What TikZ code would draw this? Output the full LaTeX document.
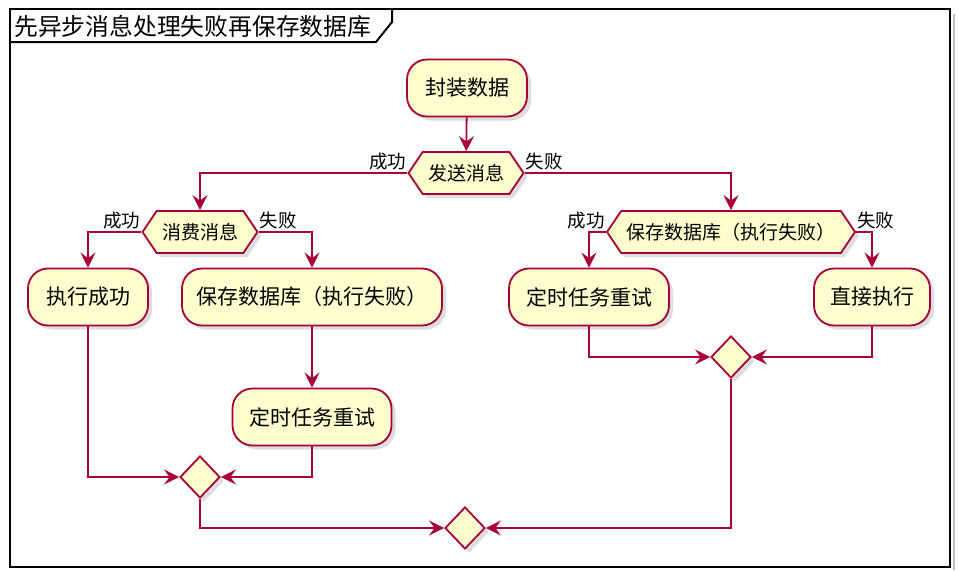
\documentclass[tikz,border=0pt]{standalone}
\usepackage{fontspec}
\setmainfont{Noto Sans CJK SC}
\usetikzlibrary{arrows.meta,shapes.geometric,shapes.symbols,shadows}
\definecolor{actfill}{HTML}{FEFECE}
\definecolor{actline}{HTML}{A80036}
\tikzset{
  shad/.style={drop shadow={shadow xshift=4pt,shadow yshift=-4pt,fill=black!22,draw=none,opacity=0.6}},
  act/.style={draw=actline,fill=actfill,line width=1.8pt,rounded corners=20pt,
    minimum height=57pt,inner sep=0pt,font=\fontsize{21}{25}\selectfont,shad},
  hexa/.style={shape=signal,signal to=west and east,signal pointer angle=112,
    draw=actline,fill=actfill,line width=1.8pt,minimum height=42pt,inner sep=0pt,
    font=\fontsize{19}{23}\selectfont,shad},
  merge/.style={shape=diamond,draw=actline,fill=actfill,line width=1.8pt,
    minimum width=40pt,minimum height=42pt,inner sep=0pt,shad},
  flow/.style={draw=actline,line width=1.8pt,-{Stealth[length=15pt,width=15pt,inset=5.5pt]}},
  lbl/.style={font=\fontsize{18.5}{22}\selectfont,inner sep=1pt}
}
\begin{document}
\begin{tikzpicture}[x=1pt,y=-1pt]
\useasboundingbox (0,0) rectangle (958,570);
\fill[white] (0,0) rectangle (958,570);
% frame
\draw[black!25,line width=2pt] (953.5,14) -- (953.5,570);
\draw[black,line width=2.5pt] (10,9) rectangle (950,567);
\draw[black,line width=2pt] (10,42) -- (376,42) -- (392,22) -- (392,9);
\node[anchor=west,inner sep=0pt,font=\fontsize{23.8}{27}\selectfont] (title) at (14,26) {先异步消息处理失败再保存数据库};
% nodes
\node[act,minimum width=120pt] (a1) at (467,88) {封装数据};
\node[hexa,minimum width=115pt] (h1) at (466,173) {发送消息};
\node[hexa,minimum width=115pt] (h2) at (200,232) {消费消息};
\node[hexa,minimum width=248pt] (h3) at (731,232) {保存数据库（执行失败）};
\node[act,minimum width=120pt] (b1) at (88,297) {执行成功};
\node[act,minimum width=260pt] (b2) at (312,297) {保存数据库（执行失败）};
\node[act,minimum width=159pt] (b3) at (312,417) {定时任务重试};
\node[act,minimum width=160pt] (b4) at (589,297) {定时任务重试};
\node[act,minimum width=116pt] (b5) at (872,297) {直接执行};
\node[merge] (d1) at (200,477) {};
\node[merge] (d3) at (731,357) {};
\node[merge] (d2) at (465,528) {};
% connectors
\draw[flow] (a1) -- (h1);
\draw[flow] (h1.west) -| (h2.north);
\draw[flow] (h1.east) -| (h3.north);
\draw[flow] (h2.west) -| (b1.north);
\draw[flow] (h2.east) -| (b2.north);
\draw[flow] (b2) -- (b3);
\draw[flow] (b1.south) |- (d1.west);
\draw[flow] (b3.south) |- (d1.east);
\draw[flow] (d1.south) |- (d2.west);
\draw[flow] (h3.west) -| (b4.north);
\draw[flow] (h3.east) -| (b5.north);
\draw[flow] (b4.south) |- (d3.west);
\draw[flow] (b5.south) |- (d3.east);
\draw[flow] (d3.south) |- (d2.east);
% labels
\node[lbl,anchor=south east] (l1) at ([yshift=2pt]h1.west) {成功};
\node[lbl,anchor=south west] (l2) at ([yshift=2pt]h1.east) {失败};
\node[lbl,anchor=south east] (l3) at ([yshift=2pt]h2.west) {成功};
\node[lbl,anchor=south west] (l4) at ([yshift=2pt]h2.east) {失败};
\node[lbl,anchor=south east] (l5) at ([yshift=2pt]h3.west) {成功};
\node[lbl,anchor=south west] (l6) at ([yshift=2pt]h3.east) {失败};
\end{tikzpicture}
\end{document}
